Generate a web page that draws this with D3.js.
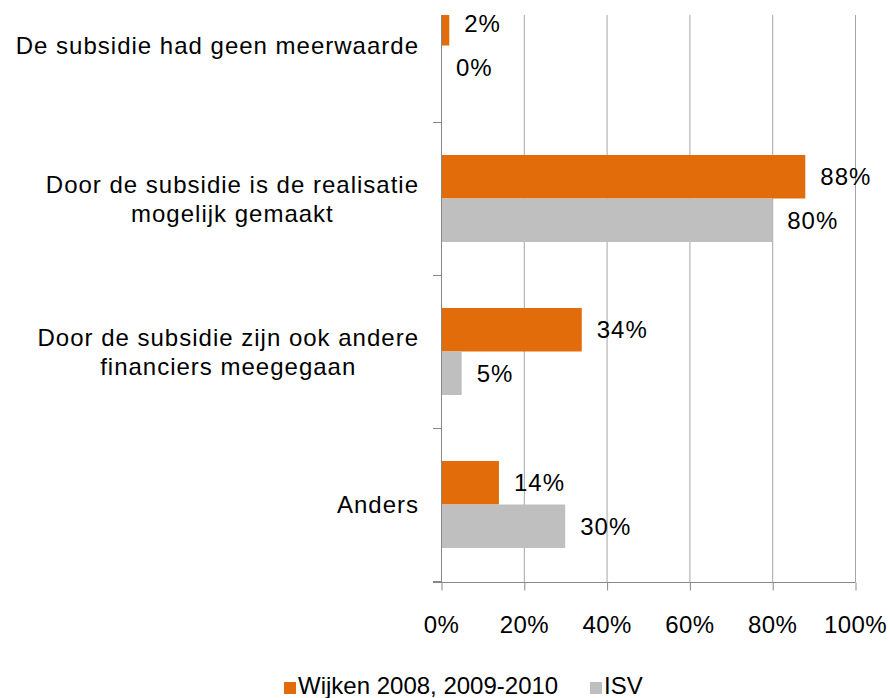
<!DOCTYPE html>
<html>
<head>
<meta charset="utf-8">
<script src="https://cdn.jsdelivr.net/npm/d3@7"></script>
<style>
    body { margin: 0; background: #fff; }
    svg { display: block; }
    text { font-family: "Liberation Sans", Arial, sans-serif; font-size: 24px; fill: #000; }
    .wide { letter-spacing: 1px; }
</style>
</head>
<body>
<svg id="chart" width="890" height="698"></svg>
<script>
// ====
// DATA
// ====
var categories = [
    "De subsidie had geen meerwaarde",
    "Door de subsidie is de realisatie mogelijk gemaakt",
    "Door de subsidie zijn ook andere financiers meegegaan",
    "Anders"
];
var categoryLines = [
    ["De subsidie had geen meerwaarde"],
    ["Door de subsidie is de realisatie", "mogelijk gemaakt"],
    ["Door de subsidie zijn ook andere", "financiers meegegaan"],
    ["Anders"]
];
var seriesNames = ["Wijken 2008, 2009-2010", "ISV"];
var wijken = [0.02, 0.88, 0.34, 0.14];
var isv = [0.00, 0.80, 0.05, 0.30];
var xTicks = [0, 0.2, 0.4, 0.6, 0.8, 1.0];

var colors = ["#e36c0a", "#bfbfbf"];

// ######
// # MAIN
// ######
var svg = d3.select("#chart");

var plotTop = 15, plotBottom = 582;
var left = 441, right = 855;

var x = d3.scaleLinear().domain([0, 1]).range([left, right]);

// first band is cut off at the top of the picture
var y = d3.scaleBand().domain(categories).range([-31, 581]).padding(0);
var ySub = d3.scaleBand().domain(seriesNames).range([0, y.bandwidth()])
    .paddingInner(0).paddingOuter(0.759);

var rows = [];
categories.forEach(function (c, i) {
    rows.push({ cat: c, series: seriesNames[0], value: wijken[i], color: colors[0] });
    rows.push({ cat: c, series: seriesNames[1], value: isv[i], color: colors[1] });
});

svg.append("defs").append("clipPath").attr("id", "plotclip")
    .append("rect")
    .attr("x", 0).attr("y", plotTop)
    .attr("width", 890).attr("height", plotBottom - plotTop);

// gridlines
svg.append("g").selectAll("line")
    .data(xTicks.slice(1))
    .enter().append("line")
    .attr("x1", function (d) { return x(d) + 0.5; })
    .attr("x2", function (d) { return x(d) + 0.5; })
    .attr("y1", plotTop)
    .attr("y2", plotBottom)
    .attr("stroke", "#a6a6a6")
    .attr("stroke-width", 1);

// bars
var plot = svg.append("g").attr("clip-path", "url(#plotclip)");

plot.selectAll("rect")
    .data(rows)
    .enter().append("rect")
    .attr("x", x(0))
    .attr("y", function (d) { return y(d.cat) + ySub(d.series); })
    .attr("width", function (d) { return x(d.value) - x(0); })
    .attr("height", ySub.bandwidth())
    .attr("fill", function (d) { return d.color; });

// value labels
plot.selectAll("text")
    .data(rows)
    .enter().append("text")
    .attr("class", "wide")
    .attr("x", function (d) { return x(d.value) + 15; })
    .attr("y", function (d) { return y(d.cat) + ySub(d.series) + ySub.bandwidth() / 2 + 8.6; })
    .text(function (d) { return Math.round(d.value * 100) + "%"; });

// left axis line + category boundary ticks
var axisColor = "#888888";
svg.append("line")
    .attr("x1", left + 0.5).attr("x2", left + 0.5)
    .attr("y1", plotTop).attr("y2", plotBottom)
    .attr("stroke", axisColor);

var bounds = categories.map(function (c) { return y(c) + y.bandwidth(); });
svg.append("g").selectAll("line")
    .data(bounds)
    .enter().append("line")
    .attr("x1", left - 8).attr("x2", left)
    .attr("y1", function (d) { return d + 0.5; })
    .attr("y2", function (d) { return d + 0.5; })
    .attr("stroke", axisColor);

// bottom axis
svg.append("line")
    .attr("x1", left - 8).attr("x2", right + 0.5)
    .attr("y1", plotBottom + 0.5).attr("y2", plotBottom + 0.5)
    .attr("stroke", axisColor);

var xAxis = svg.append("g")
    .attr("transform", "translate(0," + (plotBottom + 0.5) + ")")
    .call(d3.axisBottom(x).tickValues(xTicks).tickSize(8).tickPadding(12)
        .tickFormat(function (d) { return Math.round(d * 100) + "%"; }));
xAxis.select(".domain").remove();
xAxis.selectAll(".tick line").attr("stroke", axisColor).attr("transform", "translate(0.5,0)");
xAxis.selectAll(".tick text")
    .attr("font-size", null).attr("font-family", null)
    .attr("dy", null).attr("y", 50)
    .style("font-size", "24px").style("fill", "#000")
    .style("letter-spacing", "0.4px");

// category labels: block right aligned, lines centred inside it
var labelRight = 419, lineH = 29;
categoryLines.forEach(function (lines, i) {
    var cy = y(categories[i]) + y.bandwidth() / 2;
    var g = svg.append("g");
    var texts = g.selectAll("text")
        .data(lines)
        .enter().append("text")
        .attr("class", "wide")
        .attr("text-anchor", "middle")
        .attr("y", function (d, j) { return cy - (lines.length - 1) * lineH / 2 + j * lineH + 8.6; })
        .text(function (d) { return d; });
    var maxW = 0;
    texts.each(function () { maxW = Math.max(maxW, this.getComputedTextLength()); });
    texts.attr("x", labelRight - maxW / 2);
});

// legend
var legendX = [284, 590];
var legend = svg.append("g").selectAll("g")
    .data(seriesNames)
    .enter().append("g")
    .attr("transform", function (d, i) { return "translate(" + legendX[i] + ",0)"; });

legend.append("rect")
    .attr("x", 0).attr("y", 682)
    .attr("width", 12).attr("height", 12)
    .attr("fill", function (d, i) { return colors[i]; });

legend.append("text")
    .attr("x", 14).attr("y", 694)
    .text(function (d) { return d; });
</script>
</body>
</html>
